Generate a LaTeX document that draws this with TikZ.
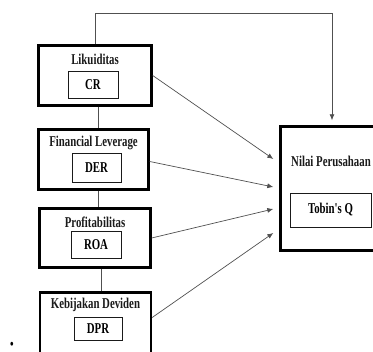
\documentclass[tikz,border=0pt]{standalone}
\usepackage{fontspec}
\newfontfamily\boxfont[FakeStretch=0.72]{Liberation Serif}
\usepackage{xcolor}
\usepackage{tikz}
\usetikzlibrary{arrows.meta, positioning, calc}
\definecolor{linegray}{HTML}{505050}
\definecolor{inkdark}{HTML}{1A1A1A}

\begin{document}
\begin{tikzpicture}[
    x=1pt, y=-1pt,
    varbox/.style={draw, line width=2.4pt, inner sep=0pt},
    measure/.style={draw, line width=0.7pt, draw=inkdark, inner sep=0pt,
                    font=\boxfont\fontsize{15}{17}\selectfont\bfseries},
    title/.style={inner sep=0pt, text=inkdark,
                  font=\boxfont\fontsize{15}{17}\selectfont\bfseries},
    link/.style={line width=0.8pt, linegray},
    arrow/.style={-{Latex[length=6pt,width=5pt]}, line width=0.7pt, linegray}
  ]
    \path[use as bounding box] (0,0) rectangle (373,352);
    \clip (0,0) rectangle (373,352);

    % Likuiditas
    \node[varbox, minimum width=113pt, minimum height=60pt] (lik) at (95,75.5) {};
    \node[title] (likt) at (95,59) {Likuiditas};
    \node[measure, minimum width=50pt, minimum height=27pt] (cr) at (93,84.5) {CR};

    % Financial Leverage
    \node[varbox, minimum width=110pt, minimum height=60pt] (fl) at (93.5,159.5) {};
    \node[title] (flt) at (93.5,143) {Financial Leverage};
    \node[measure, minimum width=49pt, minimum height=29pt] (der) at (96.5,167.5) {DER};

    % Profitabilitas
    \node[varbox, minimum width=111pt, minimum height=59pt] (prof) at (95,238) {};
    \node[title] (proft) at (95,222) {Profitabilitas};
    \node[measure, minimum width=50pt, minimum height=27pt] (roa) at (96,244.5) {ROA};

    % Kebijakan Deviden
    \node[varbox, minimum width=111pt, minimum height=62pt] (keb) at (95.5,323.5) {};
    \node[title] (kebt) at (95.5,305) {Kebijakan Deviden};
    \node[measure, minimum width=48pt, minimum height=23pt] (dpr) at (98,328.5) {DPR};

    % Nilai Perusahaan
    \node[varbox, minimum width=102pt, minimum height=124pt] (np) at (331.5,188.5) {};
    \node[title] (npt) at (331,161) {Nilai Perusahaan};
    \node[measure, minimum width=81pt, minimum height=34pt] (tq) at (330.5,210) {Tobin's Q};

    \node[inner sep=0pt, font=\boxfont\fontsize{16}{16}\selectfont] (dot) at (12,346) {\textbullet};

    % links between variables
    \draw[link] ([xshift=3pt]lik.south) -- ([xshift=3pt]lik.south |- fl.north);
    \draw[link] ([xshift=4.5pt]fl.south) -- ([xshift=4.5pt]fl.south |- prof.north);
    \draw[link] ([xshift=6pt]prof.south) -- ([xshift=6pt]prof.south |- keb.north);

    % arrows to Nilai Perusahaan
    \draw[arrow, shorten >=5pt] (lik.north) -- ++(0,-31) -| ([xshift=0.5pt]np.north);
    \draw[arrow] (lik.east) -- ([xshift=-6pt,yshift=29.5pt]np.west);
    \draw[arrow] ([yshift=-2pt]fl.east) -- ([xshift=-6pt,yshift=1.5pt]np.west);
    \draw[arrow] (prof.east) -- ([xshift=-6pt,yshift=-20.5pt]np.west);
    \draw[arrow] ([yshift=6pt]keb.east) -- ([xshift=-6pt,yshift=-44.5pt]np.west);
\end{tikzpicture}
\end{document}
